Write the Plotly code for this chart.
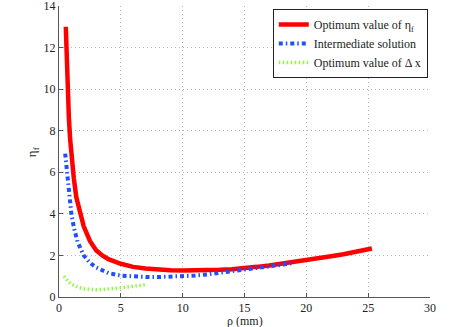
import plotly.graph_objects as go

# Optimum value of eta_f (red)
red_x = [0.55, 0.6, 0.7, 0.8, 0.9, 1.0, 1.2, 1.4, 1.7, 2.0, 2.5, 3.0, 3.5, 4.0, 5.0, 6.0, 7.0, 8.0,
         9.0, 10.0, 11.0, 12.0, 13.0, 14.0, 15.0, 16.0, 17.0, 18.0, 19.0, 20.0, 21.0, 22.0, 23.0, 24.0, 25.3]
red_y = [13.0, 11.8, 10.0, 8.6, 7.6, 6.8, 5.7, 4.8, 4.0, 3.4, 2.7, 2.25, 2.0, 1.82, 1.6, 1.45, 1.37, 1.32,
         1.29, 1.28, 1.28, 1.29, 1.31, 1.34, 1.38, 1.45, 1.52, 1.6, 1.68, 1.77, 1.86, 1.96, 2.06, 2.17, 2.33]

# Intermediate solution (blue)
blue_x = [0.5, 0.55, 0.6, 0.7, 0.8, 0.9, 1.0, 1.2, 1.5, 2.0, 2.5, 3.0, 4.0, 5.0, 6.0, 7.0, 8.0,
          9.0, 10.0, 11.0, 12.0, 13.0, 14.0, 15.0, 16.0, 17.0, 18.0, 18.8]
blue_y = [6.9, 6.6, 6.25, 5.5, 4.8, 4.35, 4.0, 3.35, 2.65, 2.0, 1.65, 1.42, 1.15, 1.03, 0.98, 0.96, 0.96,
          0.97, 0.99, 1.03, 1.09, 1.16, 1.24, 1.31, 1.38, 1.46, 1.55, 1.63]

# Optimum value of delta x (green)
green_x = [0.4, 0.6, 0.8, 1.0, 1.5, 2.0, 2.5, 3.0, 3.5, 4.0, 5.0, 6.0, 7.1]
green_y = [1.0, 0.85, 0.72, 0.62, 0.48, 0.4, 0.36, 0.35, 0.36, 0.38, 0.44, 0.52, 0.6]

x_ticks = [0, 5, 10, 15, 20, 25, 30]
y_ticks = [0, 2, 4, 6, 8, 10, 12, 14]

FONT = "Liberation Serif, Times New Roman, serif"

fig = go.Figure()
fig.add_trace(go.Scatter(x=red_x, y=red_y, mode="lines", line=dict(color="#ff0000", width=4.5),
                         name="Optimum value of η<sub>f</sub>"))
fig.add_trace(go.Scatter(x=blue_x, y=blue_y, mode="lines",
                         line=dict(color="#1f4fff", width=4, dash="4px,3px,1.5px,3px"),
                         name="Intermediate solution"))
fig.add_trace(go.Scatter(x=green_x, y=green_y, mode="lines",
                         line=dict(color="#88ff33", width=3.5, dash="1.5px,2.5px"),
                         name="Optimum value of Δ x"))

axis_common = dict(
    showgrid=True, gridcolor="#b8b8b8", griddash="1px,3px", gridwidth=1,
    showline=True, linecolor="#555555", linewidth=1,
    ticks="inside", ticklen=4, tickcolor="#555555",
    tickfont=dict(family=FONT, size=12, color="#222222"),
    zeroline=False, mirror=False, automargin=False,
    ticklabeloverflow="allow",
)

fig.update_layout(
    width=463, height=327,
    margin=dict(l=59, r=33, t=6, b=30),
    plot_bgcolor="white", paper_bgcolor="white",
    font=dict(family=FONT, size=12, color="#222222"),
    xaxis=dict(range=[0, 30], tickvals=x_ticks, **axis_common),
    yaxis=dict(range=[0, 14], tickvals=y_ticks, **axis_common),
    legend=dict(x=0.994, y=0.99, xanchor="right", yanchor="top",
                bordercolor="#222222", borderwidth=1, bgcolor="white",
                font=dict(family=FONT, size=12), tracegroupgap=0, itemwidth=30),
    showlegend=True,
    annotations=[
        dict(text="ρ (mm)", x=0.5, y=-0.083, xref="paper", yref="paper",
             xanchor="center", yanchor="middle", showarrow=False,
             font=dict(family=FONT, size=12, color="#222222")),
        dict(text="η<sub>f</sub>", x=-0.071, y=0.5, xref="paper", yref="paper",
             xanchor="center", yanchor="middle", showarrow=False, textangle=-90,
             font=dict(family=FONT, size=13, color="#222222")),
    ],
)

fig.write_html("out.html", config={"displayModeBar": False},
               post_script="document.body.style.margin='0';document.body.style.overflow='hidden';")
